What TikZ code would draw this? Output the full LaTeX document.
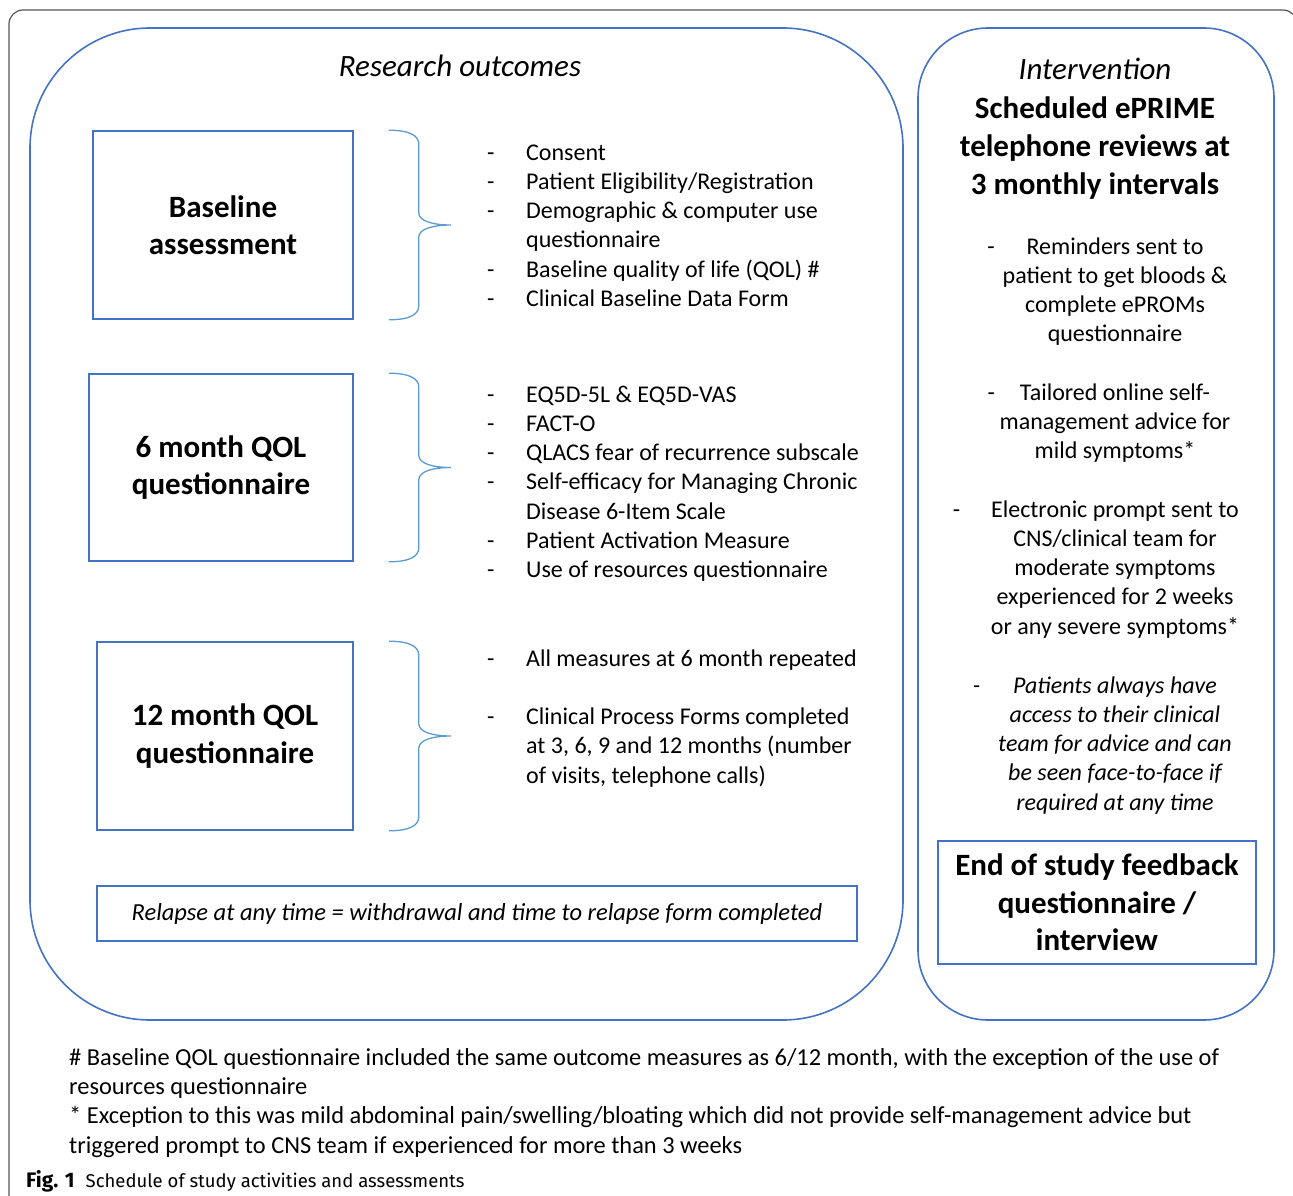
\documentclass[tikz,border=0pt]{standalone}
\usepackage{fontspec}
\setmainfont{Carlito}
\newfontfamily\capfont{Fira Sans}
\usepackage{tikz}
\usepackage{xcolor}
\usetikzlibrary{positioning,calc}
\definecolor{boxblue}{RGB}{68,114,196}
\definecolor{braceblue}{RGB}{91,155,213}
\definecolor{framegray}{RGB}{85,85,85}
\newcommand{\outitem}[1]{\makebox[39pt][l]{-}#1}
\newcommand{\outcont}[1]{\hspace*{39pt}#1}
\newcommand{\dashat}[1]{\makebox[0pt][r]{-\hspace{#1pt}}}
\newcommand{\qolbrace}[1]{%
  \path ($(#1.north east)+(35,0)$) coordinate (#1-bt)
        ($(#1.east)+(97,0)$) coordinate (#1-bm)
        ($(#1.south east)+(35,0)$) coordinate (#1-bb);
  \draw[qbrace] (#1-bt) .. controls +(22,0) and +(0,-8) .. ($(#1-bt)+(30,14)$)
    -- ($(#1-bm)+(-32,-12)$) .. controls +(0,8) and +(-18,0) .. (#1-bm)
    .. controls +(-18,0) and +(0,-8) .. ($(#1-bm)+(-32,12)$)
    -- ($(#1-bb)+(30,-14)$) .. controls +(0,8) and +(22,0) .. (#1-bb);}

\begin{document}
\begin{tikzpicture}[x=1pt,y=-1pt,
    region/.style={draw=boxblue, line width=1.6pt},
    stagebox/.style={draw=boxblue, line width=1.6pt, align=center, inner sep=0pt,
      font=\bfseries\fontsize{31}{37.5}\selectfont},
    qbrace/.style={draw=braceblue, line width=1.3pt},
    listtext/.style={align=left, anchor=base west, inner sep=0pt,
      font=\fontsize{24}{29.3}\selectfont},
    sidetext/.style={align=center, anchor=base, inner sep=0pt,
      font=\fontsize{24}{29.3}\selectfont}]
    \useasboundingbox (0,0) rectangle (1293,1196);

    % outer frame
    \draw[framegray, line width=1.2pt, rounded corners=14] (9,1200) -- (9,10) -- (1297,10) -- (1297,60);

    % two regions
    \node[region, rounded corners=120, minimum width=873, minimum height=992] (outcomes) at (466.5,524) {};
    \node[region, rounded corners=70, minimum width=356, minimum height=992] (intervention) at (1096,524) {};

    % research outcomes (multi-line nodes sit on their last baseline)
    \node[anchor=base, inner sep=0pt, font=\itshape\fontsize{31}{37.5}\selectfont] (outtitle) at (460,77) {Research outcomes};

    \node[stagebox, minimum width=260, minimum height=188] (baseline) at (223,225) {Baseline\\assessment};
    \node[stagebox, minimum width=264, minimum height=187] (sixmonth) at (221,467.5) {6 month QOL\\questionnaire};
    \node[stagebox, minimum width=256, minimum height=188] (twelvemonth) at (225,736) {12 month QOL\\questionnaire};

    \qolbrace{baseline}
    \qolbrace{sixmonth}
    \qolbrace{twelvemonth}

    \node[listtext] (baselinelist) at (487,306.5) {\outitem{Consent}\\
      \outitem{Patient Eligibility/Registration}\\
      \outitem{Demographic \& computer use}\\
      \outcont{questionnaire}\\
      \outitem{Baseline quality of life (QOL) \#}\\
      \outitem{Clinical Baseline Data Form}};
    \node[listtext] (sixlist) at (487,577.8) {\outitem{EQ5D-5L \& EQ5D-VAS}\\
      \outitem{FACT-O}\\
      \outitem{QLACS fear of recurrence subscale}\\
      \outitem{Self-efficacy for Managing Chronic}\\
      \outcont{Disease 6-Item Scale}\\
      \outitem{Patient Activation Measure}\\
      \outitem{Use of resources questionnaire}};
    \node[listtext] (twelvelist) at (487,783.2) {\outitem{All measures at 6 month repeated}\\[29.3pt]
      \outitem{Clinical Process Forms completed}\\
      \outcont{at 3, 6, 9 and 12 months (number}\\
      \outcont{of visits, telephone calls)}};

    \node[draw=boxblue, line width=1.6pt, minimum width=760, minimum height=55, inner sep=0pt,
      font=\itshape\fontsize{24.5}{29.3}\selectfont] (relapse) at (477,913.5)
      {Relapse at any time = withdrawal and time to relapse form completed};

    % intervention
    \node[anchor=base, inner sep=0pt, font=\itshape\fontsize{31}{37.5}\selectfont] (inttitle) at (1095,80) {Intervention};
    \node[anchor=base, align=center, inner sep=0pt, font=\bfseries\fontsize{31}{38}\selectfont] (inthead) at (1095,194)
      {Scheduled ePRIME\\telephone reviews at\\3 monthly intervals};

    \node[sidetext] (remind) at (1115,341.9) {\dashat{32}Reminders sent to\\patient to get bloods \&\\complete ePROMs\\questionnaire};
    \node[sidetext] (advice) at (1115,458.6) {\dashat{25}Tailored online self-\\management advice for\\mild symptoms*};
    \node[sidetext] (prompt) at (1115,634.2) {\dashat{31}Electronic prompt sent to\\CNS/clinical team for\\moderate symptoms\\experienced for 2 weeks\\or any severe symptoms*};
    \node[sidetext, font=\itshape\fontsize{24}{29.3}\selectfont] (access) at (1115,810.2) {\dashat{33}Patients always have\\access to their clinical\\team for advice and can\\be seen face-to-face if\\required at any time};

    \node[stagebox, minimum width=318, minimum height=123] (endstudy) at (1097,902.5) {End of study feedback\\questionnaire /\\interview};

    % footnotes and caption
    \node[listtext, font=\fontsize{24.4}{29.4}\selectfont] (notes) at (69,1153.2) {\# Baseline QOL questionnaire included the same outcome measures as 6/12 month, with the exception of the use of\\
      resources questionnaire\\
      * Exception to this was mild abdominal pain/swelling/bloating which did not provide self-management advice but\\
      triggered prompt to CNS team if experienced for more than 3 weeks};
    \node[anchor=base west, inner sep=0pt, font=\capfont\fontsize{18.5}{22}\selectfont] (caption) at (26,1187)
      {{\fontsize{21}{22}\selectfont\textbf{Fig. 1}}\hspace{11pt}Schedule of study activities and assessments};
\end{tikzpicture}
\end{document}
